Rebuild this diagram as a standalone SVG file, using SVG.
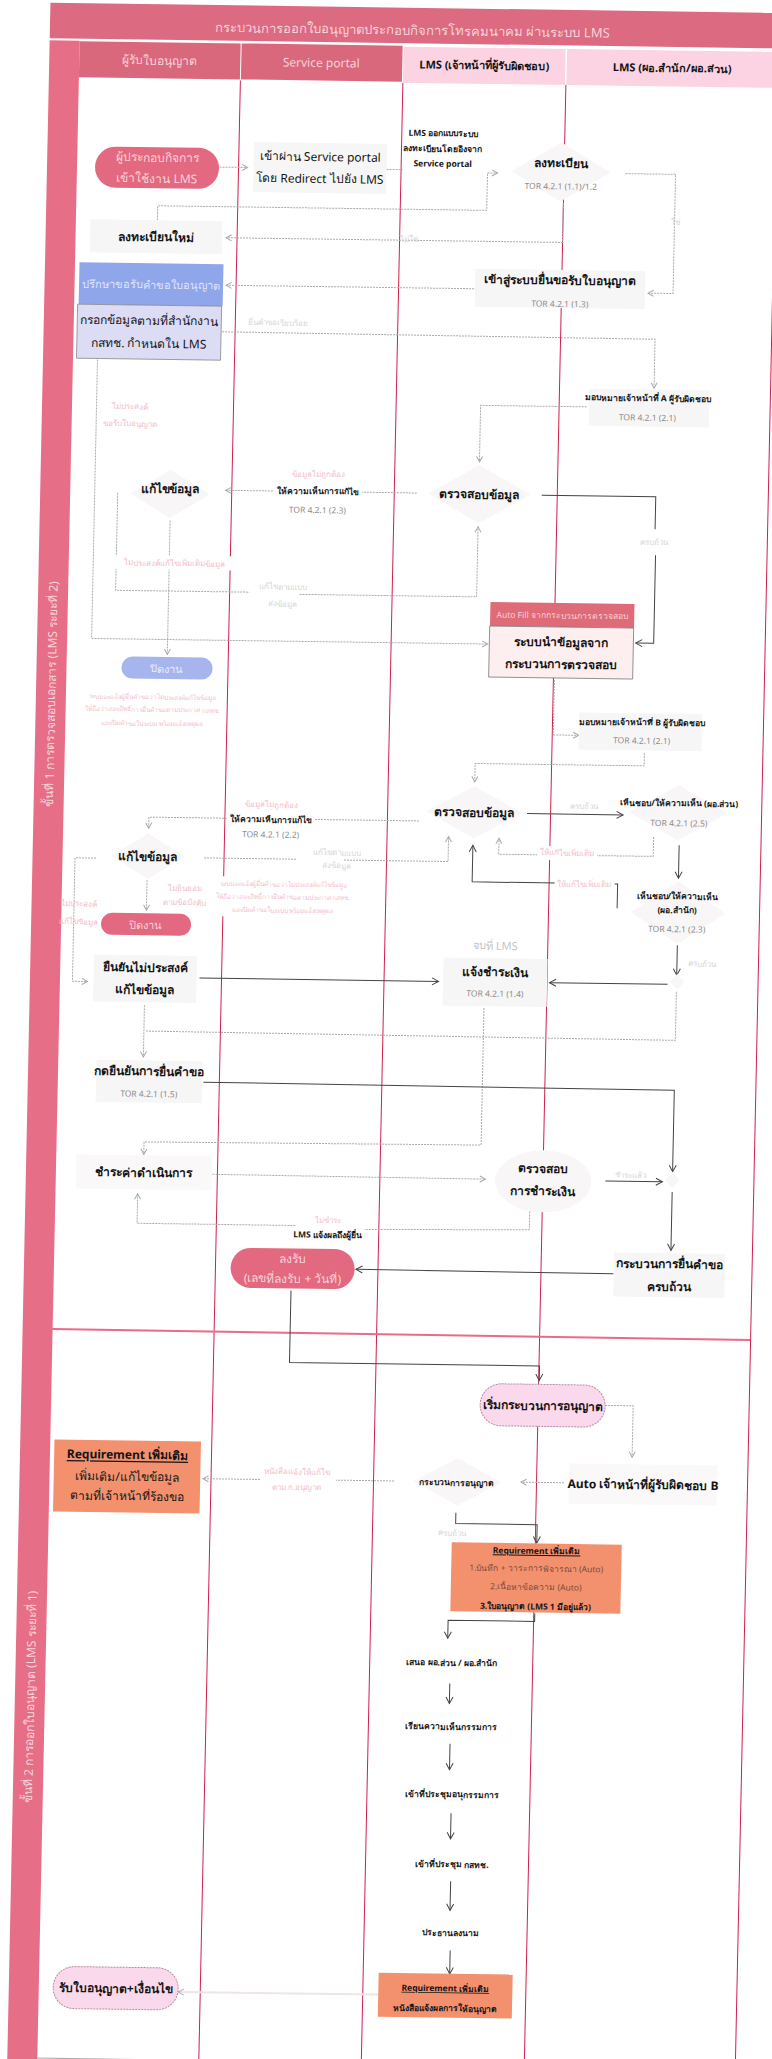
<svg xmlns="http://www.w3.org/2000/svg" width="772" height="2059" viewBox="0 0 772 2059">
<style>
text{font-family:"Noto Sans","Liberation Sans","DejaVu Sans",sans-serif;text-anchor:middle;dominant-baseline:central;fill:#151515}
.b{font-weight:700}
.s13{font-size:13px}.s12{font-size:12px}.s11{font-size:11px}.s10{font-size:9.5px}.s9{font-size:8.5px}
.tor{font-size:8.5px;fill:#8c8c8c}
.pk{font-size:8px;fill:#f2bccb}
.pt{font-size:6.5px;fill:#f2bccb}
.gy{font-size:8px;fill:#d6d6d6}
.wh{fill:#f7d3db}
.box{fill:#f7f6f6}
.dia{fill:#f8f6f6}
.pill{fill:#e2697f}
.lp{fill:#fbd9ec;stroke:#b98aa0;stroke-width:1;stroke-dasharray:2 1}
.or{fill:#f3916f}
.col{stroke:#cf1f4f;stroke-width:1;fill:none}
.d{fill:none;stroke:#aaa;stroke-width:1;stroke-dasharray:2 1;marker-end:url(#ag)}
.n{fill:none;stroke:#aaa;stroke-width:1;stroke-dasharray:2 1}
.k{fill:none;stroke:#444;stroke-width:1;marker-end:url(#ak)}
.kn{fill:none;stroke:#444;stroke-width:1}
.p{fill:none;stroke:#eee5e5;stroke-width:2;marker-end:url(#ag)}
</style>
<defs>
<marker id="ag" markerWidth="8" markerHeight="8" refX="6.5" refY="4" orient="auto" markerUnits="userSpaceOnUse"><path d="M1 1L6.500 4L1 7" fill="none" stroke="#a8a8b8" stroke-width="1"/></marker>
<marker id="ak" markerWidth="9" markerHeight="9" refX="7.5" refY="4.5" orient="auto" markerUnits="userSpaceOnUse"><path d="M1 1L7.500 4.500L1 8" fill="none" stroke="#444" stroke-width="1"/></marker>
</defs>
<rect width="772" height="2059" fill="#fff"/>
<g transform="matrix(1,.014,-.021,1,0,0)">
<g id="frame">
<rect x="50.5" y="2" width="740" height="35.5" fill="#dc6a80"/>
<rect x="50.5" y="39.5" width="30" height="2020" fill="#e66f87"/>
<rect x="80.5" y="40" width="161" height="36" fill="#d9687c"/>
<rect x="242.5" y="40" width="161" height="36" fill="#d9687c"/>
<rect x="404.5" y="41" width="162" height="36" fill="#fbd3e3"/>
<rect x="568" y="41" width="220" height="36" fill="#fbd3e3"/>
<path class="col" d="M242 77V2059M404.5 77V2059M567.5 77V2059M778.5 77V2059"/>
<path d="M80 1328L778 1329" stroke="#ea6a8a" stroke-width="2" fill="none"/>
<path d="M80 2057H778" stroke="#aaa" stroke-width="1" fill="none"/>
<text x="413" y="24" class="s13 wh">กระบวนการออกใบอนุญาตประกอบกิจการโทรคมนาคม ผ่านระบบ LMS</text>
<text x="161" y="58" class="s12 wh">ผู้รับใบอนุญาต</text>
<text x="322.5" y="58" class="s12 wh">Service portal</text>
<text x="485.5" y="58" class="s11 b">LMS (เจ้าหน้าที่ผู้รับผิดชอบ)</text>
<text x="673.5" y="58" class="s11 b">LMS (ผอ.สำนัก/ผอ.ส่วน)</text>
<text transform="translate(65.5 693) rotate(-90)" class="s12 wh">ขั้นที่ 1 การตรวจสอบเอกสาร (LMS ระยะที่ 2)</text>
<text transform="translate(65.5 1696) rotate(-90)" class="s12 wh">ขั้นที่ 2 การออกใบอนุญาต (LMS ระยะที่ 1)</text>
</g>
<g id="connectors">
<path class="d" d="M223 164H251"/>
<path class="n" d="M390 164H406"/>
<path class="d" d="M491 166H501"/>
<path class="n" d="M162 218V203.5H491V166"/>
<path class="d" d="M567.5 195V234.5H231"/>
<path class="d" d="M629 164.8H679V284H654"/>
<path class="d" d="M480 282H232"/>
<path class="d" d="M229 328.6L662 330V379"/>
<path class="d" d="M595 398.5H489V455"/>
<path class="d" d="M427 487H236"/>
<path class="n" d="M128 491V588.5H262"/>
<path class="d" d="M312 590H489V520"/>
<path class="d" d="M181 518V652"/>
<path class="d" d="M105 358V637H501"/>
<path class="kn" d="M552 487.4H666V520"/>
<path class="k" d="M667 546V634H649"/>
<path class="n" d="M568.5 672V727"/>
<path class="d" d="M568.5 727H594"/>
<path class="d" d="M660 744V756.6H491V775"/>
<path class="d" d="M436 814.8H166V826"/>
<path class="n" d="M222 854.8H314"/>
<path class="d" d="M362 855H466V830"/>
<path class="d" d="M114 856.5H93V980H108"/>
<path class="d" d="M165.5 878V908"/>
<path class="k" d="M220 975H459"/>
<path class="k" d="M544 806H640"/>
<path class="d" d="M671 827.5V847H516.5V831"/>
<path class="k" d="M696.7 835.5V868.5"/>
<path class="kn" d="M636 899.4V875H560"/>
<path class="k" d="M560 875H490.5V838.5"/>
<path class="k" d="M697 935.5V965.5"/>
<path class="k" d="M688 974.7H570"/>
<path class="n" d="M697 982V1030.6L166.6 1028.7"/>
<path class="d" d="M165.5 1003V1054.7"/>
<path class="n" d="M505 1001V1138L168 1139.5"/>
<path class="d" d="M168 1139.5V1152"/>
<path class="k" d="M226 1079L697 1080.6V1162"/>
<path class="d" d="M237 1171L510 1172"/>
<path class="k" d="M630 1172.2H687"/>
<path class="k" d="M697 1182.3V1240.6"/>
<path class="k" d="M640 1264.7L382.5 1264"/>
<path class="n" d="M555 1197.6V1222L390 1224"/>
<path class="d" d="M321 1221H162.7V1191.5"/>
<path class="k" d="M318 1286V1358H568V1372.5"/>
<path class="d" d="M634.5 1396.5H662.5V1448"/>
<path class="d" d="M595 1474.4H552"/>
<path class="n" d="M425 1475H367"/>
<path class="d" d="M291 1475.4H234"/>
<path class="k" d="M487.5 1506V1516.7H569V1535"/>
<path class="k" d="M568.5 1605.5V1613.5H482V1631.5"/>
<path class="k" d="M485 1676.7V1696.7"/>
<path class="k" d="M486.5 1737V1763"/>
<path class="k" d="M489 1806.5V1832"/>
<path class="k" d="M490 1874.5V1903.5"/>
<path class="k" d="M491 1943.7V1967"/>
<path class="p" d="M420 1988.7L220 1989"/>
</g>
<g id="n-start"><rect x="98.500" y="145" width="124" height="41" rx="20.5" class="pill"/><text x="160.5" y="155" class="s12 wh">ผู้ประกอบกิจการ</text><text x="160.5" y="176" class="s12 wh">เข้าใช้งาน LMS</text></g>
<g id="n-portal"><rect x="257" y="138.5" width="133" height="50" class="box"/><text x="323.5" y="152" class="s12">เข้าผ่าน Service portal</text><text x="323.5" y="174" class="s12">โดย Redirect ไปยัง LMS</text></g>
<g id="n-lms-note"><text x="446" y="126.5" class="s9 b">LMS ออกแบบระบบ</text><text x="446" y="142" class="s9 b">ลงทะเบียนโดยอิงจาก</text><text x="446" y="157" class="s9 b">Service portal</text></g>
<g id="n-register"><path class="dia" d="M515 164L564.5 134.5L614 164L564.5 193.5Z"/><text x="564.5" y="155" class="s12 b">ลงทะเบียน</text><text x="564.5" y="178" class="tor">TOR 4.2.1 (1.1)/1.2</text></g>
<g id="n-new"><rect x="95" y="218" width="132" height="33" class="box"/><text x="161" y="234.5" class="s12 b">ลงทะเบียนใหม่</text></g>
<g id="n-enter"><rect x="481" y="262" width="170" height="38" class="box"/><text x="566" y="272" class="s12 b">เข้าสู่ระบบยื่นขอรับใบอนุญาต</text><text x="566" y="295.5" class="tor">TOR 4.2.1 (1.3)</text></g>
<g id="n-consult"><rect x="85" y="261" width="144" height="42" fill="#8fa6ea"/><text x="157" y="282" class="s11" style="fill:#dfe4fb">ปรึกษาขอรับคำขอใบอนุญาต</text></g>
<g id="n-fill"><rect x="84" y="303" width="144" height="54" fill="#dcdcf5" stroke="#888" stroke-width=".8"/><text x="156" y="318" class="s12">กรอกข้อมูลตามที่สำนักงาน</text><text x="156" y="341" class="s12">กสทช. กำหนดใน LMS</text></g>
<g id="n-assign-a"><rect x="597.5" y="380.5" width="120" height="37" class="box"/><text x="656" y="388.5" class="s9 b">มอบหมายเจ้าหน้าที่ A ผู้รับผิดชอบ</text><text x="656" y="408" class="tor">TOR 4.2.1 (2.1)</text></g>
<g id="n-check-1"><path class="dia" d="M438.5 487.3L489.4 458.3L540.3 487.3L489.4 516.3Z"/><text x="489.4" y="487.3" class="s12 b">ตรวจสอบข้อมูล</text></g>
<g id="n-comment-1"><rect x="284" y="478" width="88" height="16" fill="#fff"/><text x="328" y="469" class="pk">ข้อมูลไม่ถูกต้อง</text><text x="328" y="486" class="s9 b">ให้ความเห็นการแก้ไข</text><text x="328" y="505" class="tor">TOR 4.2.1 (2.3)</text></g>
<g id="n-edit-1"><path class="dia" d="M141 491.5L180.4 467.5L220 491.5L180.4 515.5Z"/><text x="180.3" y="486" class="s12 b">แก้ไขข้อมูล</text></g>
<g id="n-labels-1">
<text x="138.6" y="404" class="pk">ไม่ประสงค์</text><text x="138.6" y="421" class="pk">ขอรับใบอนุญาต</text>
<rect x="125" y="553" width="125" height="14" fill="#fff"/><text x="186.8" y="560" class="pk">ไม่ประสงค์แก้ไขเพิ่มเติมข้อมูล</text>
<text x="295" y="582" class="gy">แก้ไขตามแบบ</text><text x="295" y="599" class="gy">ส่งข้อมูล</text>
<rect x="650" y="524" width="30" height="16" fill="#fff"/><text x="665" y="532.5" class="gy">ครบถ้วน</text>
<text x="414" y="233" class="gy">ไม่ใช่</text><text x="680" y="212" class="gy">ใช่</text>
<text x="285" y="318" class="gy">ยื่นคำขอเรียบร้อย</text>
</g>
<g id="n-close-1"><rect x="135.5" y="654.5" width="91" height="22" rx="11" fill="#a6b5ee"/><text x="181" y="665.7" class="s11" style="fill:#e8ecfb">ปิดงาน</text>
<text x="167.3" y="694.5" class="pt">ระบบจะแจ้งผู้ยื่นคำขอว่าไม่ประสงค์แก้ไขข้อมูล</text><text x="167.3" y="707" class="pt">ให้ถือว่าสละสิทธิ์การยื่นคำขอตามประกาศ กสทช.</text><text x="167.3" y="721" class="pt">และปิดคำขอในระบบ พร้อมแจ้งเหตุผล</text></g>
<g id="n-autofill"><rect x="503" y="595" width="144" height="24" fill="#df6a78"/><text x="575" y="607" class="s9" style="fill:#f7d3db">Auto Fill จากกระบวนการตรวจสอบ</text><rect x="502.7" y="619" width="144" height="51" fill="#fdeef0" stroke="#777" stroke-width=".8"/><text x="574.7" y="634" class="s12 b">ระบบนำข้อมูลจาก</text><text x="574.7" y="656" class="s12 b">กระบวนการตรวจสอบ</text></g>
<g id="n-assign-b"><rect x="594" y="704.2" width="123" height="37" class="box"/><text x="657" y="712.7" class="s9 b">มอบหมายเจ้าหน้าที่ B ผู้รับผิดชอบ</text><text x="657" y="731" class="tor">TOR 4.2.1 (2.1)</text></g>
<g id="n-check-2"><path class="dia" d="M443 805.4L491 779.4L539 805.4L491 831.4Z"/><text x="491" y="805.4" class="s12 b">ตรวจสอบข้อมูล</text></g>
<g id="n-comment-2"><rect x="244" y="806" width="88" height="16" fill="#fff"/><text x="288" y="800" class="pk">ข้อมูลไม่ถูกต้อง</text><text x="288" y="815" class="s9 b">ให้ความเห็นการแก้ไข</text><text x="288" y="830" class="tor">TOR 4.2.1 (2.2)</text></g>
<g id="n-edit-2"><path class="dia" d="M129 854L166 831.5L203 854L166 876.5Z"/><text x="166" y="854" class="s12 b">แก้ไขข้อมูล</text></g>
<g id="n-labels-2">
<text x="355" y="847" class="gy">แก้ไขตามแบบ</text><text x="355" y="860" class="gy">ส่งข้อมูล</text>
<text x="98" y="901.6" class="pk">ไม่ประสงค์</text><text x="98" y="919.6" class="pk">แก้ไขข้อมูล</text>
<text x="203.3" y="884.7" class="pk">ไม่ยินยอม</text><text x="203.3" y="899" class="pk">ตามข้อบังคับ</text>
<rect x="240" y="873" width="124" height="40" fill="#fff"/><text x="301.6" y="880" class="pt">ระบบจะแจ้งผู้ยื่นคำขอว่าไม่ประสงค์แก้ไขข้อมูล</text><text x="301.6" y="892.7" class="pt">ให้ถือว่าสละสิทธิ์การยื่นคำขอตามประกาศ กสทช.</text><text x="301.6" y="906" class="pt">และปิดคำขอในระบบ พร้อมแจ้งเหตุผล</text>
<text x="601" y="797" class="gy">ครบถ้วน</text>
<rect x="555" y="838" width="60" height="14" fill="#fff"/><text x="584.4" y="844" class="pk">ให้แก้ไขเพิ่มเติม</text>
<rect x="573" y="868" width="60" height="14" fill="#fff"/><text x="602.5" y="875" class="pk">ให้แก้ไขเพิ่มเติม</text>
<text x="722" y="953" class="gy">ครบถ้วน</text>
</g>
<g id="n-head-check"><path class="dia" d="M646 803L695 775.5L744 803L695 830.5Z"/><text x="696" y="793" class="s9 b">เห็นชอบ/ให้ความเห็น (ผอ.ส่วน)</text><text x="696" y="813" class="tor">TOR 4.2.1 (2.5)</text></g>
<g id="n-dir-check"><path class="dia" d="M650 903L697 872L744 903L697 934Z"/><text x="696" y="886" class="s9 b">เห็นชอบ/ให้ความเห็น</text><text x="696" y="900" class="s9 b">(ผอ.สำนัก)</text><text x="696" y="919" class="tor">TOR 4.2.1 (2.3)</text></g>
<g id="n-close-2"><rect x="120.4" y="911" width="90" height="22" rx="11" class="pill"/><text x="165.4" y="922" class="s11 wh">ปิดงาน</text></g>
<g id="n-confirm"><rect x="114" y="953" width="103" height="47" class="box"/><text x="165.5" y="965" class="s12 b">ยืนยันไม่ประสงค์</text><text x="165.5" y="987" class="s12 b">แก้ไขข้อมูล</text></g>
<g id="n-pay-notice"><text x="515" y="938" class="s11" style="fill:#c4c4c4">จบที่ LMS</text><rect x="463.6" y="951" width="104" height="48" class="box"/><text x="515.6" y="964.7" class="s12 b">แจ้งชำระเงิน</text><text x="515.6" y="986" class="tor">TOR 4.2.1 (1.4)</text></g>
<g id="n-junction-1"><path class="dia" d="M690.6 972L697.6 964L704.6 972L697.6 980Z"/></g>
<g id="n-submit"><rect x="118.7" y="1058" width="106" height="42" class="box"/><text x="171.7" y="1068.6" class="s12 b">กดยืนยันการยื่นคำขอ</text><text x="171.7" y="1091" class="tor">TOR 4.2.1 (1.5)</text></g>
<g id="n-pay"><rect x="100.6" y="1153" width="136" height="34" fill="#faf8f8"/><text x="168.6" y="1170" class="s12 b">ชำระค่าดำเนินการ</text></g>
<g id="n-check-pay"><ellipse cx="567.8" cy="1173.4" rx="48" ry="31" class="dia"/><text x="567.8" y="1160.4" class="s12 b">ตรวจสอบ</text><text x="567.8" y="1183" class="s12 b">การชำระเงิน</text></g>
<g id="n-junction-2"><path class="dia" d="M690 1170.6L697 1162L704 1170.6L697 1179Z"/><text x="655" y="1165" class="gy">ชำระแล้ว</text></g>
<g id="n-complete"><rect x="640.3" y="1243.6" width="111" height="44" class="box"/><text x="695.8" y="1254" class="s12 b">กระบวนการยื่นคำขอ</text><text x="695.8" y="1276.6" class="s12 b">ครบถ้วน</text></g>
<g id="n-receive"><text x="353.5" y="1214.6" class="pk">ไม่ชำระ</text><text x="353.5" y="1229.4" class="s9 b">LMS แจ้งผลถึงผู้ยื่น</text><rect x="257.2" y="1244" width="124" height="40" rx="20" class="pill"/><text x="319.2" y="1254" class="s12 wh">ลงรับ</text><text x="319.2" y="1274" class="s12 wh">(เลขที่ลงรับ + วันที่)</text></g>
<g id="n-start-license"><rect x="509.5" y="1376.4" width="125" height="42" rx="21" class="lp"/><text x="572" y="1397.4" class="s12 b">เริ่มกระบวนการอนุญาต</text></g>
<g id="n-auto-b"><rect x="600" y="1455" width="148" height="40" fill="#faf8f8"/><text x="674" y="1475" class="s12 b">Auto เจ้าหน้าที่ผู้รับผิดชอบ B</text></g>
<g id="n-license"><path class="dia" d="M444.5 1475L488.5 1451.5L532.5 1475L488.5 1498.5Z"/><text x="488" y="1475.3" class="s9 b">กระบวนการอนุญาต</text></g>
<g id="n-req-left"><rect x="84.7" y="1438.2" width="146.5" height="72" class="or"/><text x="158" y="1452.2" class="s12 b" text-decoration="underline">Requirement เพิ่มเติม</text><text x="158" y="1474.2" class="s12">เพิ่มเติม/แก้ไขข้อมูล</text><text x="158" y="1493.5" class="s12">ตามที่เจ้าหน้าที่ร้องขอ</text></g>
<g id="n-labels-3"><text x="328" y="1466.5" class="pk">หนังสือแจ้งให้แก้ไข</text><text x="328" y="1482" class="pk">ตาม ก.อนุญาต</text><text x="484" y="1525.4" class="gy">ครบถ้วน</text></g>
<g id="n-req-mid"><rect x="484" y="1535.5" width="170" height="69" class="or"/><text x="569" y="1542.5" class="s9 b" text-decoration="underline">Requirement เพิ่มเติม</text><text x="569" y="1560" class="s9" style="fill:#7a4a3a">1.บันทึก + วาระการพิจารณา (Auto)</text><text x="569" y="1578.5" class="s9" style="fill:#7a4a3a">2.เนื้อหาข้อความ (Auto)</text><text x="569" y="1598" class="s9 b">3.ใบอนุญาต (LMS 1 มีอยู่แล้ว)</text></g>
<g id="n-s1"><text x="486.6" y="1655.4" class="s9 b">เสนอ ผอ.ส่วน / ผอ.สำนัก</text></g>
<g id="n-s2"><text x="487" y="1719.4" class="s9 b">เรียนความเห็นกรรมการ</text></g>
<g id="n-s3"><text x="489.4" y="1787" class="s9 b">เข้าที่ประชุมอนุกรรมการ</text></g>
<g id="n-s4"><text x="491" y="1857" class="s9 b">เข้าที่ประชุม กสทช.</text></g>
<g id="n-s5"><text x="491.3" y="1925.4" class="s9 b">ประธานลงนาม</text></g>
<g id="n-req-bottom"><rect x="420" y="1966.8" width="134" height="44" class="or"/><text x="487" y="1981" class="s9 b" text-decoration="underline">Requirement เพิ่มเติม</text><text x="487" y="2001" class="s9 b">หนังสือแจ้งผลการให้อนุญาต</text></g>
<g id="n-receive-license"><rect x="94.9" y="1965" width="125" height="42" rx="21" class="lp"/><text x="157.4" y="1986" class="s12 b">รับใบอนุญาต+เงื่อนไข</text></g>
</g>
</svg>
